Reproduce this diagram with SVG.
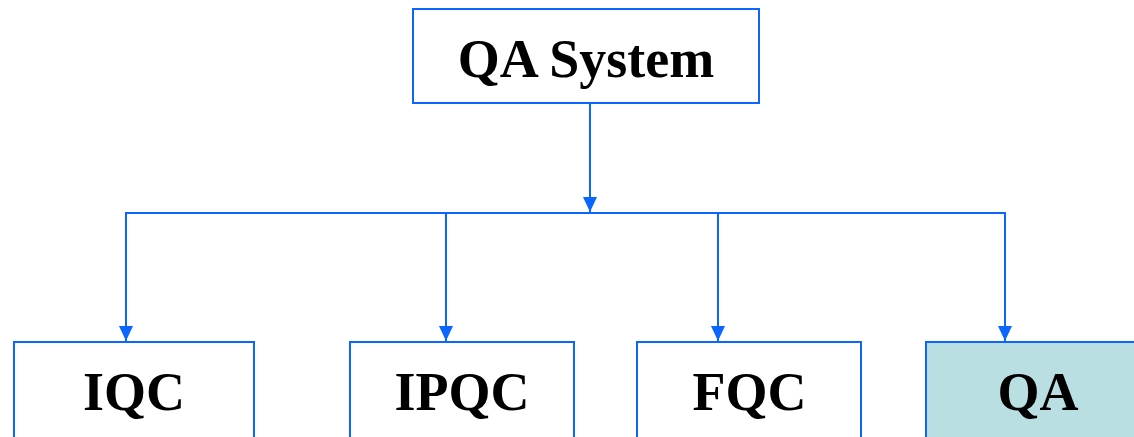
<svg xmlns="http://www.w3.org/2000/svg" width="1134" height="437" viewBox="0 0 1134 437">
  <style>
    .box { fill: #ffffff; stroke: #0a66ff; stroke-width: 2; }
    .hl { fill: #b9dfe3; }
    .lbl { font-family: "Liberation Serif", "Times New Roman", serif; font-weight: bold; font-size: 54px; fill: #000000; text-anchor: middle; }
    .wire { fill: none; stroke: #0a66ff; stroke-width: 2; stroke-linejoin: miter; }
  </style>
  <defs>
    <marker id="arrow" markerUnits="userSpaceOnUse" markerWidth="16" markerHeight="16" viewBox="0 0 16 16" refX="15" refY="8" orient="auto">
      <path d="M0,1 L15,8 L0,15 Z" fill="#0a66ff"/>
    </marker>
  </defs>

  <g id="connectors">
    <path class="wire" d="M590,103 V212" marker-end="url(#arrow)"/>
    <!-- bus with the two outer drops -->
    <path class="wire" d="M126,341 V213 H1005 V341"/>
    <path class="wire" d="M126,213 V341" marker-end="url(#arrow)"/>
    <path class="wire" d="M446,213 V341" marker-end="url(#arrow)"/>
    <path class="wire" d="M718,213 V341" marker-end="url(#arrow)"/>
    <path class="wire" d="M1005,213 V341" marker-end="url(#arrow)"/>
  </g>

  <g id="qa-system">
    <rect class="box" x="413" y="9" width="346" height="94"/>
    <text class="lbl" x="586" y="77">QA System</text>
  </g>

  <g id="iqc">
    <rect class="box" x="14" y="342" width="240" height="96"/>
    <text class="lbl" x="134" y="410">IQC</text>
  </g>

  <g id="ipqc">
    <rect class="box" x="350" y="342" width="224" height="96"/>
    <text class="lbl" x="462" y="410">IPQC</text>
  </g>

  <g id="fqc">
    <rect class="box" x="637" y="342" width="224" height="96"/>
    <text class="lbl" x="749.5" y="410">FQC</text>
  </g>

  <g id="qa">
    <rect class="box hl" x="926" y="342" width="224" height="96"/>
    <text class="lbl" x="1038" y="410">QA</text>
  </g>
</svg>
